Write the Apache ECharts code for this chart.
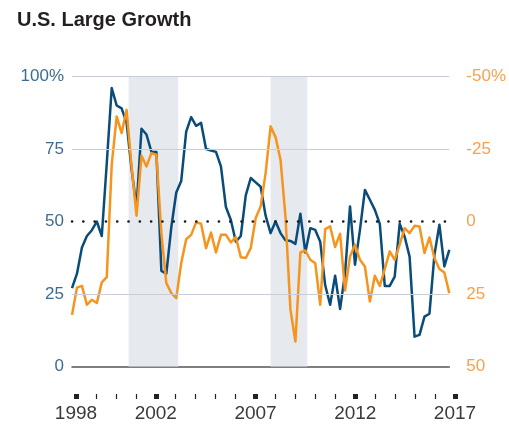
<!DOCTYPE html>
<html>
<head>
    <meta charset="utf-8">
    <title>U.S. Large Growth</title>
    <style>
        html, body {
            margin: 0;
            padding: 0;
            background: #fff;
        }

        #main {
            width: 509px;
            height: 431px;
        }
    </style>
</head>
<body>
<div id="main"></div>
<script src="https://cdn.jsdelivr.net/npm/echarts@6/dist/echarts.min.js"></script>
<script>
    // quarterly points, 1998 .. 2017
    var startYear = 1998;
    // left axis, %
    var blueValues = [27, 32, 41, 45, 47, 50, 45, 70, 96, 90, 89, 84, 68, 55, 82, 80, 74, 74, 33, 32,
        48, 60, 64, 81, 86, 83, 84, 75, 74.5, 74, 69, 55, 50.5, 43, 45, 59, 65, 63.5, 62, 52,
        46, 50, 46, 43.5, 43.3, 42.3, 52.7, 39.3, 47.7, 47.1, 43, 28, 21.3, 31.3, 19.8, 32.2, 55.2, 35.1, 47.1, 60.9,
        57.5, 54, 49.2, 27.8, 27.8, 31, 49.2, 44.8, 37.9, 10.3, 10.9, 17.2, 18.2, 38.5, 48.9, 34.5, 40.2];
    // right axis (inverted), %
    var orangeValues = [32.2, 22.8, 22.2, 28.7, 27, 28.1, 21, 19.2, -19.6, -36.2, -30.5, -38.5, -19, -2, -22.7, -19, -23.6, -23, 4, 21.2,
        24.7, 26.4, 14.3, 6.1, 4.6, 0.3, 0.8, 9.2, 3.8, 10.7, 4.6, 4.6, 7.2, 5.4, 12.3, 12.6, 9.2, -1.2, -5.2, -16.7,
        -32.8, -29.1, -21.3, -1.7, 30.4, 41.4, 10.7, 10, 13.2, 14.4, 28.7, 2.6, 1.7, 8.8, 4.2, 23.8, 12.1, 8, 13.2, 15.5,
        27.6, 18.7, 22.2, 16.4, 10.3, 13.2, 8, 2.3, 4, 1.5, 1.7, 10.9, 5.5, 12.6, 16.4, 17.6, 24.7];
    var shadedPeriods = [[2000.85, 2003.35], [2008.0, 2009.85]];
    var gridLevels = [25, 75, 100];
    var dottedLevel = 50;
    var tickYears = [1998, 1999, 2000, 2001, 2002, 2003, 2004, 2005, 2006, 2007,
        2008, 2009, 2010, 2011, 2012, 2013, 2014, 2015, 2016, 2017];
    var labelYears = [1998, 2002, 2007, 2012, 2017];

    var dates = [];
    for (var i = 0; i < blueValues.length; i++) {
        dates.push(startYear + i / 4);
    }
    var blueData = blueValues.map(function (v, i) { return [dates[i], v]; });
    var orangeData = orangeValues.map(function (v, i) { return [dates[i], v]; });

    var font = "'Liberation Sans', Arial, sans-serif";

    var myChart = echarts.init(document.getElementById("main"));
    var option = {
        animation: false,
        title: {
            text: 'U.S. Large Growth',
            left: 12,
            top: 5,
            textStyle: {
                fontFamily: font,
                fontSize: 20,
                fontWeight: 'bold',
                color: '#231f20'
            }
        },
        grid: [
            {left: 72, right: 57, top: 76.5, bottom: 64.5},
            {left: 76, right: 54, top: 390, height: 4},
            // taller grid, only its bottom edge (y=394) is used for the small ticks
            {left: 76, right: 54, top: 300, bottom: 37}
        ],
        xAxis: [
            {
                type: 'value',
                gridIndex: 0,
                position: 'bottom',
                min: 1998,
                max: 2017,
                axisLine: {show: true, lineStyle: {color: '#555', width: 1.5}},
                axisTick: {show: false},
                axisLabel: {show: false},
                splitLine: {show: false}
            },
            {
                // big square ticks + labels
                type: 'value',
                gridIndex: 1,
                position: 'bottom',
                min: 1998,
                max: 2017,
                axisLine: {show: false},
                axisTick: {show: true, length: 5, customValues: labelYears, lineStyle: {color: '#222', width: 5}},
                axisLabel: {
                    customValues: labelYears,
                    margin: 10,
                    fontFamily: font,
                    fontSize: 19,
                    color: '#3a3a3a',
                    formatter: function (v) { return String(v); }
                },
                splitLine: {show: false}
            },
            {
                // small yearly ticks
                type: 'value',
                gridIndex: 2,
                position: 'bottom',
                show: true,
                min: 1998,
                max: 2017,
                interval: 1,
                axisLine: {show: false},
                axisTick: {show: true, length: 5, lineStyle: {color: '#222', width: 1.2}},
                axisLabel: {show: false},
                splitLine: {show: false}
            }
        ],
        yAxis: [
            {
                type: 'value',
                gridIndex: 0,
                min: 0,
                max: 100,
                interval: 25,
                axisLine: {show: false},
                axisTick: {show: false},
                splitLine: {show: false},
                axisLabel: {
                    margin: 8,
                    fontFamily: font,
                    fontSize: 17,
                    color: '#3d6b91',
                    formatter: function (v) { return v === 100 ? '100%' : v; }
                }
            },
            {
                type: 'value',
                gridIndex: 0,
                inverse: true,
                min: -50,
                max: 50,
                interval: 25,
                position: 'right',
                axisLine: {show: false},
                axisTick: {show: false},
                splitLine: {show: false},
                axisLabel: {
                    margin: 17,
                    fontFamily: font,
                    fontSize: 17,
                    color: '#f4a24f',
                    formatter: function (v) { return v === -50 ? '-50%' : v; }
                }
            },
            {type: 'value', gridIndex: 1, min: 0, max: 1, show: false},
            {type: 'value', gridIndex: 2, min: 0, max: 1, show: false}
        ],
        series: [
            {
                // background: shading + grid lines
                type: 'line',
                xAxisIndex: 0,
                yAxisIndex: 0,
                data: [],
                z: 1,
                silent: true,
                markArea: {
                    silent: true,
                    itemStyle: {color: '#e6e9ed'},
                    data: shadedPeriods.map(function (p) {
                        return [{xAxis: p[0]}, {xAxis: p[1]}];
                    })
                },
                markLine: {
                    silent: true,
                    symbol: 'none',
                    label: {show: false},
                    lineStyle: {color: '#c9cdd5', width: 1, type: 'solid'},
                    data: gridLevels.map(function (v) { return {yAxis: v}; }).concat([{
                        yAxis: dottedLevel,
                        lineStyle: {color: '#1a1a1a', width: 2.6, type: [0.1, 11.2], cap: 'round'}
                    }])
                }
            },
            {
                name: 'blue',
                type: 'line',
                xAxisIndex: 0,
                yAxisIndex: 0,
                data: blueData,
                showSymbol: false,
                z: 3,
                lineStyle: {color: '#0a4c79', width: 2.5, join: 'round'}
            },
            {
                name: 'orange',
                type: 'line',
                xAxisIndex: 0,
                yAxisIndex: 1,
                data: orangeData,
                showSymbol: false,
                z: 3,
                lineStyle: {color: '#f7941d', width: 2.5, join: 'round'}
            }
        ]
    };
    myChart.setOption(option);
</script>
</body>
</html>
